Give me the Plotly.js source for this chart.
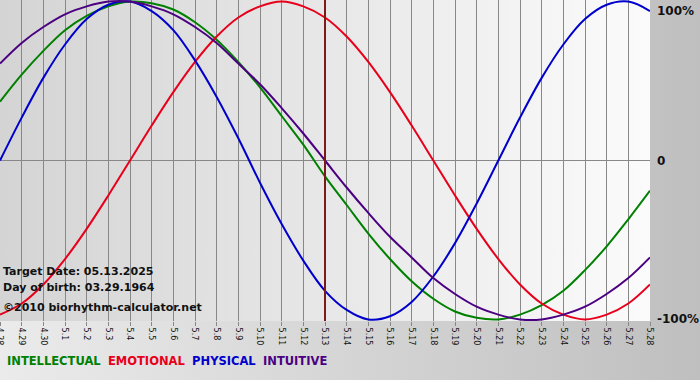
<!DOCTYPE html>
<html>
<head>
<meta charset="utf-8">
<script src="https://cdn.plot.ly/plotly-3.0.1.min.js"></script>
<style>
  html, body { margin: 0; padding: 0; }
  #wrap { position: relative; width: 700px; height: 380px; background: linear-gradient(to right, #ebebeb, #bfbfbf); overflow: hidden; }
  #pbg { position: absolute; left: 0; top: 0; width: 650px; height: 321px; background: linear-gradient(to right, #d4d4d4, #fbfbfb); }
  #chart { position: absolute; left: 0; top: 0; width: 700px; height: 380px; }
</style>
</head>
<body>
<div id="wrap"><div id="pbg"></div><div id="chart"></div></div>
<script>
// Day labels (month.day), 4.28 .. 5.28
const days = ["4.28","4.29","4.30","5.1","5.2","5.3","5.4","5.5","5.6","5.7","5.8","5.9","5.10","5.11","5.12","5.13","5.14","5.15","5.16","5.17","5.18","5.19","5.20","5.21","5.22","5.23","5.24","5.25","5.26","5.27","5.28"];

// Cycle values (fraction of 100%)
const intellectual = [0.37,0.54,0.69,0.82,0.91,0.97,1.00,0.99,0.95,0.87,0.76,0.62,0.46,0.28,0.10,-0.10,-0.28,-0.46,-0.62,-0.76,-0.87,-0.95,-0.99,-1.00,-0.97,-0.91,-0.82,-0.69,-0.54,-0.37,-0.19];
const emotional    = [-0.97,-0.90,-0.78,-0.62,-0.43,-0.22,0.00,0.22,0.43,0.62,0.78,0.90,0.97,1.00,0.97,0.90,0.78,0.62,0.43,0.22,0.00,-0.22,-0.43,-0.62,-0.78,-0.90,-0.97,-1.00,-0.97,-0.90,-0.78];
const physical     = [0.00,0.27,0.52,0.73,0.89,0.98,1.00,0.94,0.82,0.63,0.40,0.14,-0.14,-0.40,-0.63,-0.82,-0.94,-1.00,-0.98,-0.89,-0.73,-0.52,-0.27,0.00,0.27,0.52,0.73,0.89,0.98,1.00,0.94];
const intuitive    = [0.61,0.74,0.84,0.92,0.97,1.00,1.00,0.97,0.92,0.84,0.74,0.61,0.48,0.33,0.17,0.00,-0.17,-0.33,-0.48,-0.61,-0.74,-0.84,-0.92,-0.97,-1.00,-1.00,-0.97,-0.92,-0.84,-0.74,-0.61];

const seriesNames = ["INTELLECTUAL","EMOTIONAL","PHYSICAL","INTUITIVE"];
const seriesColors = ["#008000","#e8001a","#0000cc","#4b0082"];
const seriesData = [intellectual, emotional, physical, intuitive];

const targetDay = "5.13";
const infoLines = ["Target Date: 05.13.2025", "Day of birth: 03.29.1964", "\u00a92010 biorhythm-calculator.net"];
const yTickVals = [1, 0, -1];
const yTickText = ["100%", "0", "-100%"];

const traces = seriesData.map((vals, i) => ({
  type: "scatter", mode: "lines",
  x: days, y: vals, name: seriesNames[i],
  line: { color: seriesColors[i], width: 2, shape: "spline", smoothing: 1 },
  hoverinfo: "skip"
}));

const annotations = [];
yTickVals.forEach((v, i) => {
  annotations.push({
    xref: "paper", x: 1, xanchor: "left", xshift: 5,
    yref: "y", y: v, yanchor: v === 1 ? "top" : "middle",
    text: yTickText[i], showarrow: false,
    font: { family: "DejaVu Sans", size: 12, color: "#111", weight: "bold" }
  });
});
const infoShifts = [50, 34, 14];
infoLines.forEach((t, i) => {
  annotations.push({
    xref: "paper", x: 0, xanchor: "left", xshift: 1,
    yref: "paper", y: 0, yanchor: "middle", yshift: infoShifts[i],
    text: "<b>" + t + "</b>", showarrow: false,
    font: { family: "DejaVu Sans", size: 11, color: "#111" }
  });
});
annotations.push({
  xref: "paper", x: 0, xanchor: "left", xshift: 5,
  yref: "paper", y: 0, yanchor: "middle", yshift: -40,
  text: seriesNames.map((n, i) => '<span style="color:' + seriesColors[i] + '"><b>' + n + '</b></span>').join("&nbsp; "),
  showarrow: false,
  font: { family: "DejaVu Sans", size: 11.5 }
});

const targetIdx = days.indexOf(targetDay);

const layout = {
  width: 700, height: 380,
  margin: { l: 0, r: 50, t: 0, b: 59, pad: 0 },
  paper_bgcolor: "rgba(0,0,0,0)",
  plot_bgcolor: "rgba(0,0,0,0)",
  showlegend: false,
  xaxis: {
    type: "category", range: [0, days.length - 1],
    showgrid: true, gridcolor: "#888", gridwidth: 1,
    zeroline: false, showline: false,
    ticks: "outside", ticklen: 4, tickcolor: "#888",
    tickangle: 90,
    tickfont: { family: "DejaVu Sans", size: 8, color: "#111" },
    fixedrange: true
  },
  yaxis: {
    range: [-1.01, 1.01],
    showgrid: false, zeroline: true, zerolinecolor: "#888", zerolinewidth: 1,
    showticklabels: false, ticks: "", showline: false,
    fixedrange: true
  },
  shapes: [{
    type: "line", xref: "x", x0: targetIdx, x1: targetIdx,
    yref: "paper", y0: 0, y1: 1,
    line: { color: "#7a1a1a", width: 2 }, layer: "above"
  }],
  annotations: annotations
};

Plotly.newPlot("chart", traces, layout, { staticPlot: true, displayModeBar: false });
</script>
</body>
</html>
